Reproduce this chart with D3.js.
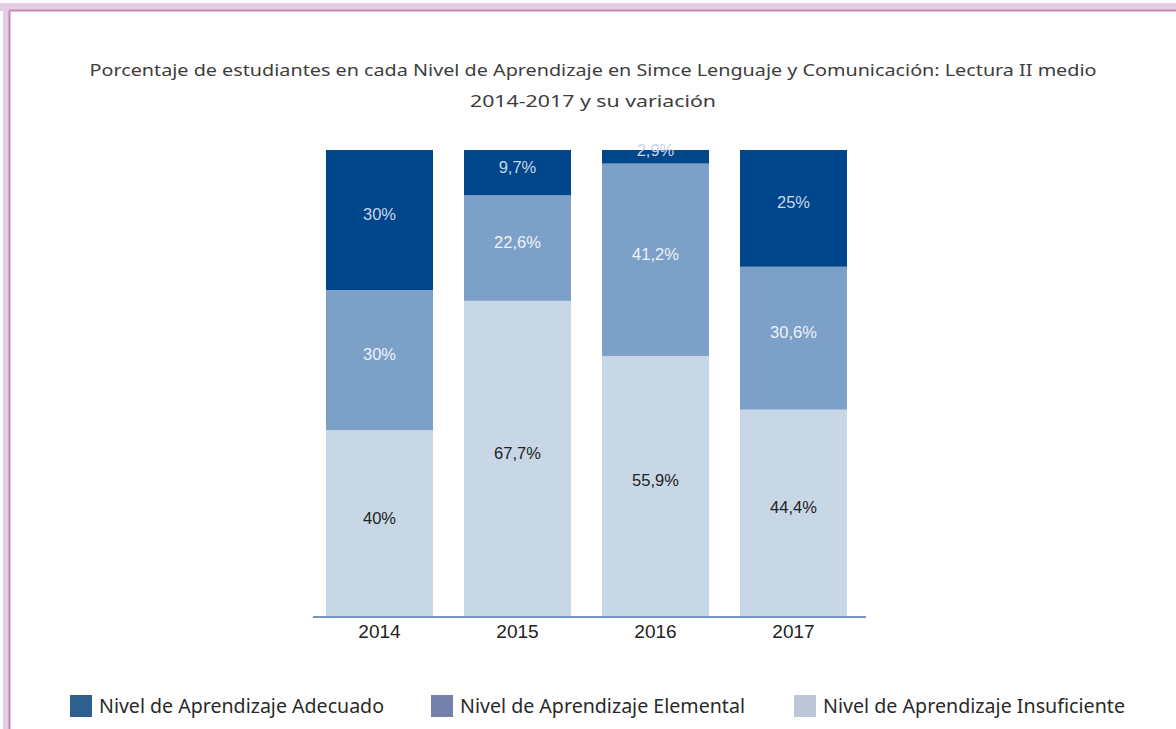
<!DOCTYPE html>
<html><head><meta charset="utf-8">
<script src="https://cdn.jsdelivr.net/npm/d3@7"></script>
<style>html,body{margin:0;padding:0;background:#fff;}svg{display:block;}</style>
</head><body>
<svg id="c" width="1176" height="729"></svg>
<script>
const years = ["2014", "2015", "2016", "2017"];
const insuficiente = [40, 67.7, 55.9, 44.4];
const elemental = [30, 22.6, 41.2, 30.6];
const adecuado = [30, 9.7, 2.9, 25];
const valueLabels = {
  insuficiente: ["40%", "67,7%", "55,9%", "44,4%"],
  elemental: ["30%", "22,6%", "41,2%", "30,6%"],
  adecuado: ["30%", "9,7%", "2,9%", "25%"]
};
const seriesNames = ["Nivel de Aprendizaje Adecuado", "Nivel de Aprendizaje Elemental", "Nivel de Aprendizaje Insuficiente"];
const titleLines = ["Porcentaje de estudiantes en cada Nivel de Aprendizaje en Simce Lenguaje y Comunicación: Lectura II medio", "2014-2017 y su variación"];

const svg = d3.select("#c");
// frame
svg.append("rect").attr("x",0).attr("y",3).attr("width",1176).attr("height",8).attr("fill","#e3cfdf");
svg.append("rect").attr("x",3).attr("y",3).attr("width",6).attr("height",726).attr("fill","#e3cfdf");
svg.append("line").attr("x1",9.5).attr("x2",1176).attr("y1",10.5).attr("y2",10.5).attr("stroke","#c586b6").attr("stroke-width",2);
svg.append("line").attr("x1",9.5).attr("x2",9.5).attr("y1",10.5).attr("y2",729).attr("stroke","#c586b6").attr("stroke-width",2);

// title
svg.selectAll("text.title").data(titleLines).join("text")
  .attr("class","title").attr("x",593).attr("y",(d,i)=>76+i*31)
  .attr("text-anchor","middle").attr("font-family","'Noto Sans', sans-serif").attr("font-size",17)
  .attr("fill","#3d3d3d")
  .attr("textLength",(d,i)=> i===0 ? 1007 : 246).attr("lengthAdjust","spacingAndGlyphs")
  .text(d=>d);

const x = d3.scaleBand().domain(years).range([310.5, 862.5]).paddingInner(0.2246).paddingOuter(0.1123);
const y = d3.scaleLinear().domain([0,100]).range([617,150]);

const data = years.map((yr,i)=>({year:yr, insuficiente:insuficiente[i], elemental:elemental[i], adecuado:adecuado[i]}));
const keys = ["insuficiente","elemental","adecuado"];
const colors = {insuficiente:"#c8d7e6", elemental:"#7ca0c8", adecuado:"#00468b"};
const textColors = {insuficiente:"#222", elemental:"#eef2f8", adecuado:"#c9d6e6"};
const stack = d3.stack().keys(keys)(data);

const g = svg.append("g");
stack.forEach(layer=>{
  const k = layer.key;
  g.selectAll("rect."+k).data(layer).join("rect").attr("class",k)
    .attr("x",d=>x(d.data.year)).attr("width",x.bandwidth())
    .attr("y",d=>y(d[1])).attr("height",d=>y(d[0])-y(d[1]))
    .attr("fill",colors[k]);
});
stack.forEach(layer=>{
  const k = layer.key;
  g.selectAll("text.l"+k).data(layer).join("text").attr("class","l"+k)
    .attr("x",d=>x(d.data.year)+x.bandwidth()/2)
    .attr("y",(d,i)=> k==="adecuado" && d[1]-d[0] < 5 ? y(d[1])+6 : (y(d[0])+y(d[1]))/2)
    .attr("text-anchor","middle").attr("font-family","'Liberation Sans', Arial, sans-serif").attr("font-size",16.5)
    .attr("fill",textColors[k])
    .text((d,i)=>valueLabels[k][i]);
});

// axis
const ax = svg.append("g").attr("transform","translate(0,617)")
  .call(d3.axisBottom(x).tickSize(0).tickPadding(8));
ax.select(".domain").attr("stroke","#7298bf").attr("stroke-width",2).attr("d","M313,0H866");
ax.selectAll("text").attr("font-family","'Liberation Sans', Arial, sans-serif").attr("font-size",19).attr("fill","#222");

// legend
const legendColors = ["#2f5f8f","#7481ab","#bfc6d7"];
const legX = [70, 431, 794];
const legW = [285, 285, 302];
const lg = svg.selectAll("g.leg").data(seriesNames).join("g").attr("class","leg")
  .attr("transform",(d,i)=>`translate(${legX[i]},695)`);
lg.append("rect").attr("width",22).attr("height",22).attr("fill",(d,i)=>legendColors[i]);
lg.append("text").attr("x",29).attr("y",18).attr("font-family","'Noto Sans', sans-serif").attr("font-size",19)
  .attr("fill","#2a2a2a").attr("textLength",(d,i)=>legW[i]).attr("lengthAdjust","spacingAndGlyphs").text(d=>d);
</script>
</body></html>
